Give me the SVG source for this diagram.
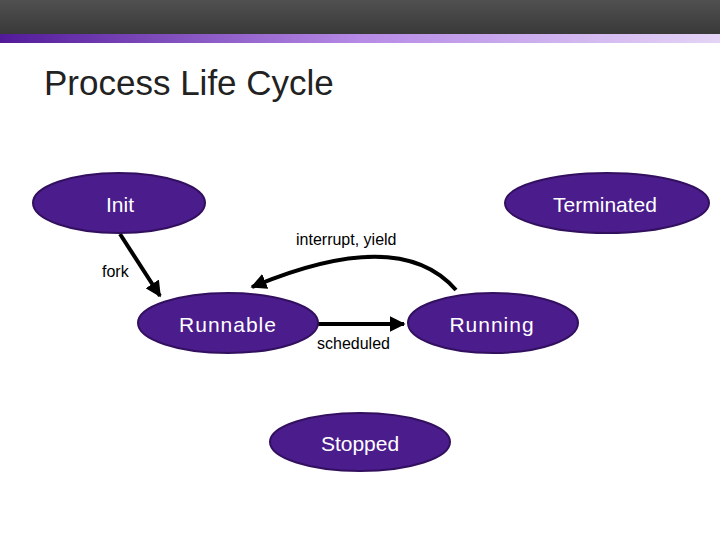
<svg xmlns="http://www.w3.org/2000/svg" width="720" height="540" viewBox="0 0 720 540">
<defs>
<linearGradient id="top" x1="0" y1="0" x2="0" y2="1"><stop offset="0" stop-color="#505050"/><stop offset="1" stop-color="#393939"/></linearGradient>
<linearGradient id="bar" x1="0" y1="0" x2="1" y2="0"><stop offset="0" stop-color="#521a99"/><stop offset="0.5" stop-color="#b68ae6"/><stop offset="1" stop-color="#e4d4f6"/></linearGradient>
<marker id="ah" viewBox="0 0 10 10" refX="9" refY="5" markerWidth="4" markerHeight="4" orient="auto" markerUnits="strokeWidth"><path d="M0,0 L10,5 L0,10 z" fill="#000"/></marker>
</defs>
<style>
.n{fill:#4b1c8c;stroke:#33105f;stroke-width:2}
.t{font-family:"Liberation Sans",Arial,sans-serif;fill:#fff;font-size:21px;text-anchor:middle}
.l{font-family:"Liberation Sans",Arial,sans-serif;fill:#000;font-size:16px}
.c{stroke:#000;stroke-width:4;fill:none;marker-end:url(#ah)}
</style>
<rect width="720" height="540" fill="#fff"/>
<rect width="720" height="34" fill="url(#top)"/>
<rect y="34" width="720" height="9" fill="url(#bar)"/>
<text x="44" y="95" font-family="Liberation Sans,Arial,sans-serif" font-size="35" fill="#222">Process Life Cycle</text>
<g id="connectors">
<path class="c" d="M120,234 L160,296"/>
<path class="c" d="M318,324 L404,324"/>
<path class="c" d="M456,290 Q400,225 252,287"/>
</g>
<g id="init"><ellipse class="n" cx="119" cy="203" rx="86" ry="30"/><text class="t" x="120" y="212">Init</text></g>
<g id="terminated"><ellipse class="n" cx="607" cy="203" rx="102" ry="30"/><text class="t" x="605" y="212">Terminated</text></g>
<g id="runnable"><ellipse class="n" cx="228" cy="323" rx="90" ry="30"/><text class="t" x="228" y="332" letter-spacing="1">Runnable</text></g>
<g id="running"><ellipse class="n" cx="493" cy="323" rx="85" ry="30"/><text class="t" x="492" y="332" letter-spacing="1">Running</text></g>
<g id="stopped"><ellipse class="n" cx="360" cy="442" rx="90" ry="29"/><text class="t" x="360" y="451">Stopped</text></g>
<text class="l" x="296" y="245">interrupt, yield</text>
<text class="l" x="102" y="277">fork</text>
<text class="l" x="317" y="349">scheduled</text>
</svg>
